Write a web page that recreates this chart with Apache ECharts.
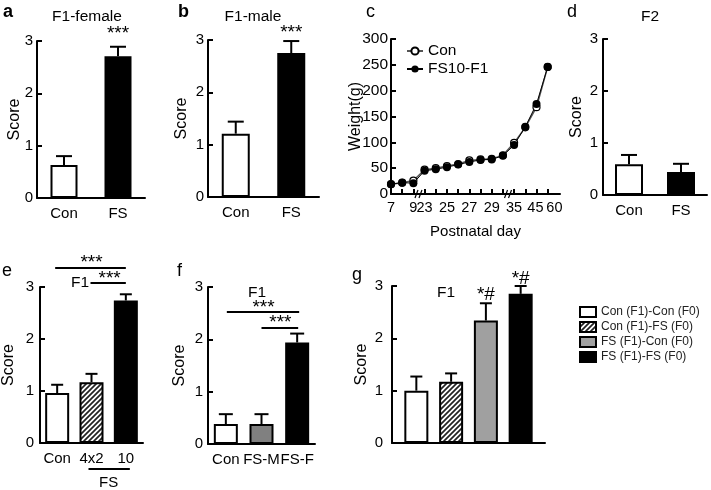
<!DOCTYPE html>
<html>
<head>
<meta charset="utf-8">
<title>FS score panels</title>
<script src="https://cdn.jsdelivr.net/npm/echarts@6/dist/echarts.min.js"></script>
<style>
  html, body { margin: 0; padding: 0; background: #fff; }
  #chart { width: 711px; height: 490px; }
</style>
</head>
<body>
<div id="chart"></div>
<script>
// ---- data ----
// a / b / d : Con vs FS
var conFsCats = ['Con', 'FS'];
var aMean = [0.63, 2.71], aErr = [0.17, 0.18];
var bMean = [1.21, 2.75], bErr = [0.23, 0.23];
var dMean = [0.59, 0.44], dErr = [0.18, 0.16];
// c : body weight (one point per measuring day, evenly spaced)
var dayLabels = ['7', '8', '9', '23', '24', '25', '26', '27', '28', '29', '30', '35', '40', '45', '60'];
var conWeight = [19, 22, 26, 47, 50, 54, 58, 65, 67, 68, 75, 99, 129, 168, 246];
var fsWeight = [19, 22, 21, 45, 48, 52, 57, 62, 66, 67, 74, 95, 130, 174, 246];
// tick label positions and texts shown under the c axis
var dayTickPos = [0, 2, 3, 5, 7, 9, 11, 12.9, 14.6];
var dayTickText = ['7', '9', '23', '25', '27', '29', '35', '45', '60'];
// e
var eCats = ['Con', '4x2', '10'];
var eMean = [0.96, 1.17, 2.74], eErr = [0.16, 0.16, 0.12];
// f
var fCats = ['Con', 'FS-M', 'FS-F'];
var fMean = [0.38, 0.38, 1.94], fErr = [0.19, 0.19, 0.17];
// g
var gNames = ['Con (F1)-Con (F0)', 'Con (F1)-FS (F0)', 'FS (F1)-Con (F0)', 'FS (F1)-FS (F0)'];
var gMean = [1.0, 1.17, 2.34, 2.85], gErr = [0.27, 0.16, 0.33, 0.15];

var FONT = '"Liberation Sans", Arial, sans-serif';

// diagonal hatch fill
function hatch() {
    var c = document.createElement('canvas');
    c.width = 5; c.height = 5;
    var g = c.getContext('2d');
    g.fillStyle = '#fff';
    g.fillRect(0, 0, 5, 5);
    g.strokeStyle = '#222';
    g.lineWidth = 1.7;
    g.beginPath();
    g.moveTo(-1, 6); g.lineTo(6, -1);
    g.moveTo(-1, 1); g.lineTo(1, -1);
    g.moveTo(4, 6); g.lineTo(6, 4);
    g.stroke();
    return { image: c, repeat: 'repeat' };
}
var HATCH = hatch();

var grids = [
    { left: 37, top: 41, width: 108, height: 157 },   // a
    { left: 208, top: 40, width: 111, height: 157 },  // b
    { left: 391, top: 39, width: 169, height: 155 },  // c
    { left: 603, top: 39, width: 104, height: 156 },  // d
    { left: 38, top: 287, width: 105, height: 156 },  // e
    { left: 208, top: 287, width: 107, height: 157 }, // f
    { left: 392, top: 286, width: 153, height: 157 }  // g
];

var axisLine = { show: true, onZero: false, lineStyle: { color: '#000', width: 2 } };

function scoreAxis(gi, gap, margin) {
    return {
        type: 'value', gridIndex: gi, min: 0, max: 3, interval: 1,
        name: 'Score', nameLocation: 'middle', nameGap: gap, nameMoveOverlap: false,
        nameTextStyle: { fontSize: 16, color: '#000', fontFamily: FONT },
        axisLine: axisLine,
        axisTick: { show: true, inside: true, length: 5, lineStyle: { color: '#000', width: 2 } },
        axisLabel: { fontSize: 15, color: '#000', margin: margin, fontFamily: FONT },
        splitLine: { show: false }
    };
}
function catAxis(gi, cats) {
    return {
        type: 'category', gridIndex: gi, data: cats,
        axisLine: axisLine, axisTick: { show: false },
        axisLabel: { fontSize: 15, color: '#000', margin: 8, fontFamily: FONT, interval: 0 }
    };
}
function barSeries(gi, mean, fills, w) {
    return {
        type: 'bar', xAxisIndex: gi, yAxisIndex: gi, barWidth: w, silent: true,
        data: mean.map(function (v, i) { return { value: v, itemStyle: { color: fills[i] } }; }),
        itemStyle: { borderColor: '#000', borderWidth: 2 }
    };
}
function errSeries(gi, mean, err, cap) {
    return {
        type: 'custom', xAxisIndex: gi, yAxisIndex: gi, silent: true, z: 3,
        data: mean.map(function (v, i) { return [i, v, err[i]]; }),
        renderItem: function (params, api) {
            var p0 = api.coord([api.value(0), api.value(1)]);
            var p1 = api.coord([api.value(0), api.value(1) + api.value(2)]);
            var st = { stroke: '#000', lineWidth: 2 };
            return {
                type: 'group', children: [
                    { type: 'line', shape: { x1: p0[0], y1: p0[1], x2: p1[0], y2: p1[1] }, style: st },
                    { type: 'line', shape: { x1: p1[0] - cap, y1: p1[1], x2: p1[0] + cap, y2: p1[1] }, style: st }
                ]
            };
        }
    };
}

var xAxes = [
    catAxis(0, conFsCats),
    catAxis(1, conFsCats),
    {
        type: 'value', gridIndex: 2, min: 0, max: 15.1,
        name: 'Postnatal day', nameLocation: 'middle', nameGap: 30, nameMoveOverlap: false,
        nameTextStyle: { fontSize: 15, color: '#000', fontFamily: FONT },
        axisLine: axisLine,
        axisTick: { show: true, inside: true, length: 5, lineStyle: { color: '#000', width: 2 },
            customValues: dayLabels.map(function (d, i) { return i; }) },
        axisLabel: { fontSize: 14.5, color: '#000', margin: 6, fontFamily: FONT, hideOverlap: false,
            customValues: dayTickPos,
            formatter: function (v) { return dayTickText[dayTickPos.indexOf(v)]; } },
        splitLine: { show: false }
    },
    catAxis(3, conFsCats),
    catAxis(4, eCats),
    catAxis(5, fCats),
    {
        type: 'value', gridIndex: 6, min: -0.7, max: 3.7,
        axisLine: axisLine, axisTick: { show: false }, axisLabel: { show: false }, splitLine: { show: false }
    }
];

var yAxes = [
    scoreAxis(0, 14, 4),
    scoreAxis(1, 18, 4),
    {
        type: 'value', gridIndex: 2, min: 0, max: 300, interval: 50,
        name: 'Weight(g)', nameLocation: 'middle', nameGap: 27, nameMoveOverlap: false,
        nameTextStyle: { fontSize: 16, color: '#000', fontFamily: FONT },
        axisLine: axisLine,
        axisTick: { show: true, inside: true, length: 5, lineStyle: { color: '#000', width: 2 } },
        axisLabel: { fontSize: 15.5, color: '#000', margin: 3, fontFamily: FONT },
        splitLine: { show: false }
    },
    scoreAxis(3, 18, 5),
    scoreAxis(4, 23, 6),
    scoreAxis(5, 20, 5),
    scoreAxis(6, 22, 9)
];

var gFills = ['#fff', HATCH, '#a0a0a0', '#000'];

var series = [
    barSeries(0, aMean, ['#fff', '#000'], 27), errSeries(0, aMean, aErr, 8),
    barSeries(1, bMean, ['#fff', '#000'], 28), errSeries(1, bMean, bErr, 8),
    barSeries(3, dMean, ['#fff', '#000'], 28), errSeries(3, dMean, dErr, 8),
    barSeries(4, eMean, ['#fff', HATCH, '#000'], 24), errSeries(4, eMean, eErr, 6),
    barSeries(5, fMean, ['#fff', '#808080', '#000'], 24), errSeries(5, fMean, fErr, 7),
    {
        name: 'Con', type: 'line', xAxisIndex: 2, yAxisIndex: 2,
        data: conWeight.map(function (v, i) { return [i, v]; }),
        symbol: 'circle', symbolSize: 7,
        itemStyle: { color: '#fff', borderColor: '#000', borderWidth: 1.2 },
        lineStyle: { color: '#555', width: 1.5 }
    },
    {
        name: 'FS10-F1', type: 'line', xAxisIndex: 2, yAxisIndex: 2,
        data: fsWeight.map(function (v, i) { return [i, v]; }),
        symbol: 'circle', symbolSize: 8,
        itemStyle: { color: '#000' },
        lineStyle: { color: '#000', width: 1 }
    }
];
gNames.forEach(function (n, i) {
    series.push({
        name: n, type: 'bar', xAxisIndex: 6, yAxisIndex: 6, barWidth: 24, barGap: '-100%',
        data: [[i, gMean[i]]],
        itemStyle: { color: gFills[i], borderColor: '#000', borderWidth: 2 }
    });
});
series.push(errSeries(6, gMean, gErr, 6));

var chart = echarts.init(document.getElementById('chart'));
chart.setOption({
    animation: false,
    backgroundColor: '#fff',
    grid: grids,
    xAxis: xAxes,
    yAxis: yAxes,
    legend: [
        {
            data: ['Con', 'FS10-F1'], orient: 'vertical', left: 401, top: 38,
            itemWidth: 16, itemHeight: 9, itemGap: 2, selectedMode: false,
            textStyle: { fontSize: 15.5, color: '#000', fontFamily: FONT }
        },
        {
            data: gNames, orient: 'vertical', left: 574, top: 301, icon: 'rect',
            itemWidth: 16, itemHeight: 10, itemGap: 3, selectedMode: false,
            textStyle: { fontSize: 12, color: '#222', fontFamily: FONT }
        }
    ],
    series: series
});

// ---- annotations ----
function px(gi, pt) { return chart.convertToPixel({ gridIndex: gi }, pt); }
function txt(x, y, s, size, bold, align) {
    return { type: 'text', x: x, y: y, silent: true,
        style: { text: s, font: (bold ? 'bold ' : '') + size + 'px ' + FONT, fill: '#000',
            textAlign: align || 'center', textVerticalAlign: 'middle' } };
}
function seg(x1, y1, x2, y2, w) {
    return { type: 'line', silent: true, shape: { x1: x1, y1: y1, x2: x2, y2: y2 },
        style: { stroke: '#000', lineWidth: w || 2 } };
}

var STAR = 19;
var gr = [];
// panel letters
gr.push(txt(3, 12, 'a', 18, true, 'left'));
gr.push(txt(178, 12, 'b', 18, true, 'left'));
gr.push(txt(366, 12, 'c', 18, false, 'left'));
gr.push(txt(567, 12, 'd', 18, false, 'left'));
gr.push(txt(2, 271, 'e', 18, false, 'left'));
gr.push(txt(177, 271, 'f', 18, false, 'left'));
gr.push(txt(352, 275, 'g', 18, false, 'left'));
// titles
gr.push(txt(87, 17, 'F1-female', 15.5));
gr.push(txt(253, 17, 'F1-male', 15.5));
gr.push(txt(650, 17, 'F2', 15.5));

// stars over bars in a and b
gr.push(txt(px(0, [1, 0])[0], 34, '***', STAR));
gr.push(txt(px(1, [1, 0])[0], 33, '***', STAR));

// e brackets
var e0 = px(4, [0, 0])[0], e1 = px(4, [1, 0])[0], e2 = px(4, [2, 0])[0];
gr.push(seg(e0 - 2, 268, e2, 268));
gr.push(txt((e0 + e2) / 2, 263, '***', STAR));
gr.push(seg(e1 - 1, 283, e2, 283));
gr.push(txt((e1 + e2) / 2 + 1, 278.5, '***', STAR));
gr.push(txt(80, 283, 'F1', 15.5));
gr.push(seg(e1 - 3, 469, e2 + 4, 469));
gr.push(txt((e1 + e2) / 2, 483, 'FS', 15));

// f brackets
var f0 = px(5, [0, 0])[0], f1 = px(5, [1, 0])[0], f2 = px(5, [2, 0])[0];
gr.push(txt(257, 293, 'F1', 15.5));
gr.push(seg(f0 + 1, 312, f2 + 2, 312));
gr.push(txt((f0 + f2) / 2 + 2, 307.5, '***', STAR));
gr.push(seg(f1, 328, f2 + 1, 328));
gr.push(txt((f1 + f2) / 2 + 1, 323, '***', STAR));

// g marks
gr.push(txt(446, 293, 'F1', 15.5));
gr.push(txt(px(6, [2, 0])[0], 295, '*#', 19));
gr.push(txt(px(6, [3, 0])[0], 279, '*#', 19));

// axis breaks in c
[2.5, 10.5].forEach(function (b) {
    var p = px(2, [b, 0]);
    gr.push(seg(p[0] - 4, p[1] + 4, p[0] - 1, p[1] - 4, 1.2));
    gr.push(seg(p[0], p[1] + 4, p[0] + 3, p[1] - 4, 1.2));
});

chart.setOption({ graphic: gr });
</script>
</body>
</html>
